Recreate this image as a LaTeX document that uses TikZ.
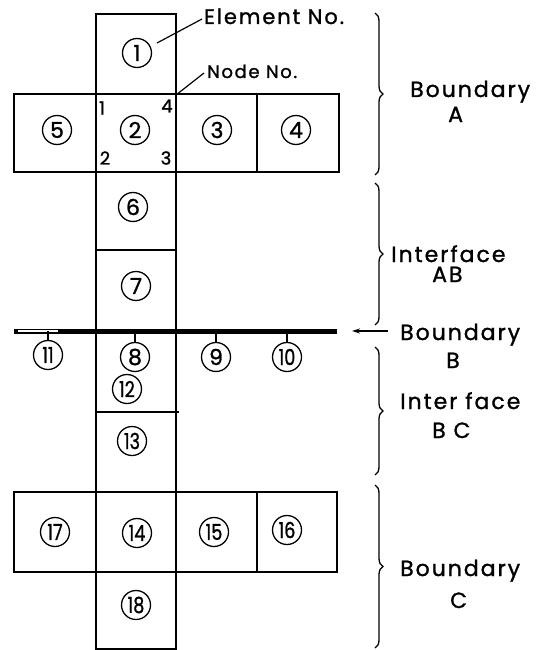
\documentclass[tikz,border=0pt]{standalone}
\usepackage{fontspec}
\usepackage{graphicx}
\setmainfont{Poppins}
\newfontfamily\labfont{Poppins}[LetterSpace=9,FakeBold=1.2]
\newfontfamily\numfont{Poppins}[FakeBold=1.2]
\usetikzlibrary{decorations.pathreplacing,arrows.meta}
\begin{document}
\begin{tikzpicture}[x=1pt,y=-1pt,
  box/.style={line width=2pt},
  elem/.style={circle,draw,line width=1.3pt,minimum size=29pt,inner sep=0pt,
    font=\numfont\fontsize{22}{22}\selectfont},
  nnum/.style={font=\numfont\fontsize{18}{18}\selectfont,inner sep=0pt},
  lab/.style={font=\labfont\fontsize{22}{22}\selectfont,inner sep=0pt,anchor=base west},
  lead/.style={line width=1.2pt},
  tick/.style={line width=1.2pt},
  br/.style={decorate,decoration={brace,amplitude=8pt},line width=1.3pt}]
\useasboundingbox (0,0) rectangle (547,650);
\newcommand{\tw}[1]{\scalebox{0.8}[1]{#1}}
% element boxes
\draw[box] (96,14) rectangle (176,94);
\draw[box] (14,94) rectangle (339,172);
\draw[box] (96,94) -- (96,172) (176,94) -- (176,172) (257,94) -- (257,172);
\draw[box] (96,172) -- (96,331) (176,172) -- (176,331) (96,250) -- (176,250);
\draw[box] (96,331) -- (96,492) (176,331) -- (176,492) (96,412) -- (179,412);
\draw[box] (14,492) rectangle (337,572);
\draw[box] (96,492) -- (96,572) (176,492) -- (176,572) (257,492) -- (257,572);
\draw[box] (96,572) rectangle (176,649);
% boundary B line
\coordinate (bl) at (14,331);
\coordinate (br) at (337,331);
\draw[line width=5pt] (bl) -- (br);
\draw[white,line width=1.2pt] (18,331) -- (58,331);
% element numbers
\node[elem] (e1) at (137,53) {1};
\node[elem] (e2) at (135,130) {2};
\node[elem] (e3) at (217,130) {3};
\node[elem] (e4) at (296,130) {4};
\node[elem] (e5) at (57,130) {5};
\node[elem] (e6) at (133,207) {6};
\node[elem] (e7) at (136,286) {7};
\node[elem] (e8) at (135,357) {8};
\node[elem] (e9) at (216,357) {9};
\node[elem] (e10) at (287,357) {\tw{10}};
\node[elem] (e11) at (48,355) {\tw{11}};
\node[elem] (e12) at (127,389) {\tw{12}};
\node[elem] (e13) at (132,441) {\tw{13}};
\node[elem] (e14) at (137,533) {\tw{14}};
\node[elem] (e15) at (214,532) {\tw{15}};
\node[elem] (e16) at (287,530) {\tw{16}};
\node[elem] (e17) at (55,532) {\tw{17}};
\node[elem] (e18) at (136,605) {\tw{18}};
% ticks from boundary B to elements
\foreach \e in {e8,e9,e10,e11}
  \draw[tick] (\e.north) -- (\e.north |- bl);
% node numbers
\node[nnum] (n1) at (102,108) {1};
\node[nnum] (n4) at (167,106) {4};
\node[nnum] (n2) at (105,158) {2};
\node[nnum] (n3) at (166,158) {3};
% leader labels
\node[lab,font=\labfont\fontsize{21}{21}\selectfont] (elno) at (204,24) {Element No.};
\node[lab,font=\labfont\fontsize{18}{18}\selectfont] (ndno) at (207,78) {Node No.};
\coordinate (l1) at (157,43);
\coordinate (l1e) at (202,19);
\draw[lead] (l1) -- (l1e);
\coordinate (l2) at (176,95);
\coordinate (l2e) at (204,73);
\draw[lead] (l2) -- (l2e);
% braces
\coordinate (ba1) at (375,13);  \coordinate (ba2) at (375,175);
\coordinate (bb1) at (375,183); \coordinate (bb2) at (375,325);
\coordinate (bc1) at (375,347); \coordinate (bc2) at (375,475);
\coordinate (bd1) at (375,485); \coordinate (bd2) at (375,648);
\draw[br] (ba1) -- (ba2);
\draw[br] (bb1) -- (bb2);
\draw[br] (bc1) -- (bc2);
\draw[br] (bd1) -- (bd2);
% right labels
\node[lab] (tA1) at (410,97) {Boundary};
\node[lab] (tA2) at (448,122) {A};
\node[lab] (tAB1) at (391,262) {Interface};
\node[lab] (tAB2) at (432,282) {AB};
\node[lab] (tB1) at (400,340) {Boundary};
\node[lab] (tB2) at (446,368) {B};
\node[lab] (tBC1) at (400,409) {Inter face};
\node[lab] (tBC2) at (432,438) {B C};
\node[lab] (tC1) at (400,576) {Boundary};
\node[lab] (tC2) at (450,608) {C};
% arrow to boundary B
\coordinate (aB1) at (388,331);
\coordinate (aB2) at (352,331);
\draw[line width=1.2pt,-{Stealth[length=8pt,width=5pt]}] (aB1) -- (aB2);
\end{tikzpicture}
\end{document}
